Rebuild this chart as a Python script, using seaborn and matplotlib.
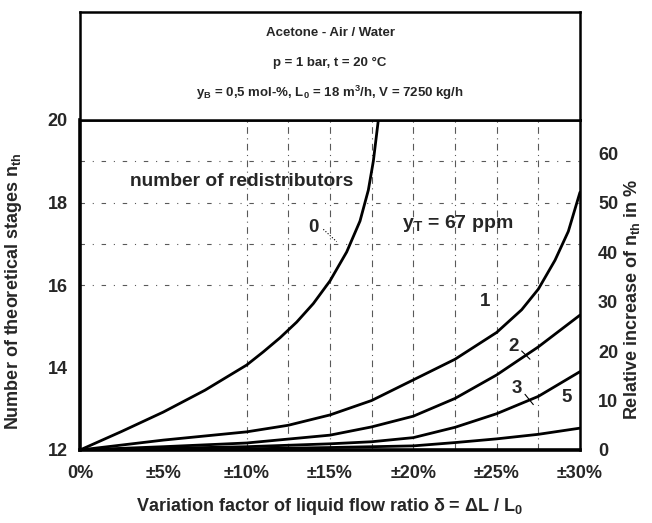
import numpy as np
import pandas as pd
import matplotlib
matplotlib.use("Agg")
import matplotlib.pyplot as plt
import seaborn as sns

# ---- data ----
# x = variation factor delta in %, n = number of theoretical stages
x0 = [0, 2.5, 5, 7.5, 10, 11, 12, 13, 14, 15, 16, 16.8, 17.3, 17.6, 17.9, 18.0]
n0 = [12, 12.45, 12.92, 13.45, 14.06, 14.38, 14.72, 15.1, 15.55, 16.1, 16.8, 17.55, 18.3, 19.0, 20.0, 20.3]

x1 = [0, 5, 10, 12.5, 15, 17.5, 20, 22.5, 25, 26.5, 27.5, 28.5, 29.3, 30]
n1 = [12, 12.24, 12.44, 12.6, 12.85, 13.2, 13.7, 14.2, 14.85, 15.4, 15.9, 16.6, 17.3, 18.25]

x2 = [0, 5, 10, 15, 17.5, 20, 22.5, 25, 27.5, 30]
n2 = [12, 12.08, 12.17, 12.36, 12.56, 12.82, 13.25, 13.82, 14.5, 15.27]

x3 = [0, 5, 10, 15, 17.5, 20, 22.5, 25, 27.5, 30]
n3 = [12, 12.04, 12.08, 12.15, 12.2, 12.3, 12.55, 12.88, 13.3, 13.9]

x5 = [0, 10, 15, 20, 22.5, 25, 27.5, 30]
n5 = [12, 12.03, 12.06, 12.1, 12.18, 12.27, 12.38, 12.53]

curves = {"0": (x0, n0), "1": (x1, n1), "2": (x2, n2), "3": (x3, n3), "5": (x5, n5)}

x_ticks = [0, 5, 10, 15, 20, 25, 30]
x_ticklabels = ["0%", "±5%", "±10%", "±15%", "±20%", "±25%", "±30%"]
y_ticks = [12, 14, 16, 18, 20]
rel_ticks = [0, 10, 20, 30, 40, 50, 60]

# ---- style ----
sns.set_theme(style="white")
plt.rcParams['font.family'] = ['Liberation Sans', 'DejaVu Sans']
plt.rcParams['mathtext.default'] = 'regular'

fig = plt.figure(figsize=(6.52, 5.23), dpi=100)
L, R, B, T = 80 / 652, 580 / 652, 1 - 450 / 523, 1 - 120 / 523
ax = fig.add_axes([L, B, R - L, T - B])

# sparse dash-dot grid like the scanned original
for gx in [10, 12.5, 15, 17.5, 20, 22.5, 25, 27.5]:
    ax.axvline(gx, color="black", lw=0.8, ls=(0, (6, 4, 1, 4)), alpha=0.65, zorder=1)
for gy in [16, 17, 18, 19]:
    ax.axhline(gy, color="black", lw=0.8, ls=(0, (4, 7, 1, 7)), alpha=0.65, zorder=1)

for key, (xs, ns) in curves.items():
    df = pd.DataFrame({"delta": xs, "n": ns})
    sns.lineplot(data=df, x="delta", y="n", ax=ax, color="black", lw=2, zorder=3)

ax.set_xlim(0, 30)
ax.set_ylim(12, 20)
ax.set_xticks(x_ticks)
ax.set_xticklabels(x_ticklabels)
ax.set_yticks(y_ticks)
ax.tick_params(axis="both", length=0, labelsize=13)
ax.tick_params(axis="x", pad=11)
ax.tick_params(axis="y", pad=9)
for lab in ax.get_xticklabels() + ax.get_yticklabels():
    lab.set_fontweight("bold")

for side, w in [("left", 2.6), ("bottom", 2.6), ("top", 1.8), ("right", 1.8)]:
    ax.spines[side].set_visible(True)
    ax.spines[side].set_color("black")
    ax.spines[side].set_linewidth(w)

ax.set_xlabel("Variation factor of liquid flow ratio δ = ΔL / L$_0$", fontsize=13, fontweight="bold")
ax.set_ylabel("Number of theoretical stages n$_{th}$", fontsize=13, fontweight="bold")
ax.xaxis.set_label_coords(0.5, -0.14)
ax.yaxis.set_label_coords(-0.112, 0.48)

# right axis: relative increase of n_th
ax2 = ax.twinx()
ax2.set_ylim(0, (20 - 12) / 12 * 100)
ax2.set_yticks(rel_ticks)
ax2.tick_params(axis="y", length=0, labelsize=13, pad=13)
for lab in ax2.get_yticklabels():
    lab.set_fontweight("bold")
for s in ax2.spines.values():
    s.set_visible(False)
ax2.set_ylabel("Relative increase of n$_{th}$ in %", fontsize=13, fontweight="bold")
ax2.yaxis.set_label_coords(1.083, 0.455)
ax2.grid(False)

# annotations
ax.text(3.0, 18.5, "number of redistributors", fontsize=13.8, fontweight="bold", va="center", ha="left")
ax.text(14.0, 17.4, "0", fontsize=13.5, fontweight="bold", va="center", ha="center")
ax.plot([14.6, 15.4], [17.35, 17.05], color="black", lw=0.8, ls=":")
ax.text(19.3, 17.5, "y$_T$ = 67 ppm", fontsize=14, fontweight="bold", va="center", ha="left")
ax.text(24.3, 15.6, "1", fontsize=13.5, fontweight="bold", va="center", ha="center")
ax.text(26.0, 14.5, "2", fontsize=13.5, fontweight="bold", va="center", ha="center")
ax.plot([26.5, 27.0], [14.4, 14.2], color="black", lw=0.8)
ax.text(26.2, 13.5, "3", fontsize=13.5, fontweight="bold", va="center", ha="center")
ax.plot([26.7, 27.2], [13.35, 13.1], color="black", lw=0.8)
ax.text(29.2, 13.27, "5", fontsize=13.5, fontweight="bold", va="center", ha="center")

# title box
axt = fig.add_axes([L, T, R - L, (1 - 12 / 523) - T])
axt.set_xticks([])
axt.set_yticks([])
for s in axt.spines.values():
    s.set_visible(True)
    s.set_color("black")
    s.set_linewidth(1.8)
title_lines = ["Acetone - Air / Water",
               "p = 1 bar, t = 20 °C",
               "y$_B$ = 0,5 mol-%, L$_0$ = 18 m$^3$/h, V = 7250 kg/h"]
for yy, txt in zip([0.806, 0.528, 0.25], title_lines):
    axt.text(0.5, yy, txt, transform=axt.transAxes, ha="center", va="center",
             fontsize=9.5, fontweight="bold")

fig.savefig("out.png", dpi=100)
